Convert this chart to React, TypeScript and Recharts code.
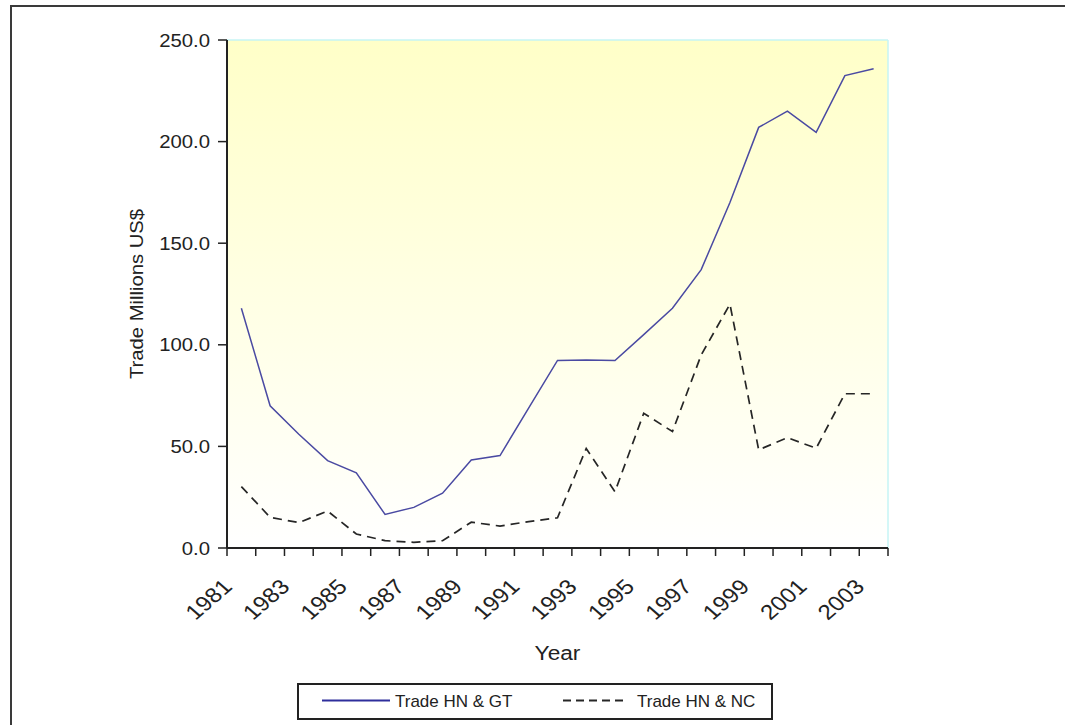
import React from 'react';
import { LineChart, Line, XAxis, YAxis, CartesianGrid, Legend, Label, ReferenceLine } from 'recharts';

const years = ['1981', '1982', '1983', '1984', '1985', '1986', '1987', '1988', '1989', '1990', '1991', '1992', '1993', '1994', '1995', '1996', '1997', '1998', '1999', '2000', '2001', '2002', '2003'];
const tradeGT = [118, 70, 56, 43, 37, 16.5, 20, 27, 43.3, 45.5, 69, 92.3, 92.5, 92.3, 105, 118, 137, 170, 207, 215, 204.5, 232.5, 235.8];
const tradeNC = [30.2, 15.1, 12.5, 18.2, 6.9, 3.6, 2.8, 3.6, 12.7, 10.8, 13, 14.9, 49, 27.7, 66.3, 57.3, 95, 120, 48.3, 54.3, 49.1, 75.9, 75.9];
const yTicks = [0, 50, 100, 150, 200, 250];
const seriesNames = ['Trade HN & GT', 'Trade HN & NC'];
const axisTitles = { x: 'Year', y: 'Trade Millions US$' };

// each year occupies one slot [i, i+1] on the x axis; its value is plotted at the slot centre
const data = years.map((year, i) => ({ slot: i + 0.5, year, gt: tradeGT[i], nc: tradeNC[i] }));
const boundaryTicks = Array.from({ length: years.length + 1 }, (_, i) => i);

const FONT = "'Liberation Sans', Arial, sans-serif";
const GT_COLOR = '#4a4aa2';
const NC_COLOR = '#262626';
const AXIS_COLOR = '#222';
const EDGE_COLOR = '#c6f4f4';

const XTick = (props: any) => {
  const { x, y, payload } = props;
  const i = payload.value as number;
  if (i % 2 !== 0 || i >= years.length) return <g />;
  return (
    <g transform={`translate(${x + 6.5},${y + 30})`}>
      <text transform="scale(1.15,1) rotate(-45)" textAnchor="end" fontSize={21} fill="#222" fontFamily={FONT}>
        {years[i]}
      </text>
    </g>
  );
};

const YTick = (props: any) => {
  const { x, y, payload } = props;
  return (
    <g transform={`translate(${x},${y})`}>
      <text transform="scale(1.13,1)" textAnchor="end" dy={6.5} fontSize={18} fill="#222" fontFamily={FONT}>
        {Number(payload.value).toFixed(1)}
      </text>
    </g>
  );
};

const YTitle = (props: any) => {
  const vb = props.viewBox;
  const cx = vb.x + 10;
  const cy = vb.y + vb.height / 2;
  return (
    <text
      x={cx}
      y={cy}
      transform={`rotate(-90, ${cx}, ${cy})`}
      textAnchor="middle"
      dominantBaseline="central"
      fontSize={18}
      fill="#222"
      fontFamily={FONT}
      textLength={170}
      lengthAdjust="spacingAndGlyphs"
    >
      {axisTitles.y}
    </text>
  );
};

const XTitle = (props: any) => {
  const vb = props.viewBox;
  const cx = vb.x + vb.width / 2;
  const cy = vb.y + 105;
  return (
    <text x={cx} y={cy} textAnchor="middle" dominantBaseline="central" fontSize={21} fill="#222" fontFamily={FONT} transform={`translate(${cx},0) scale(1.08,1) translate(${-cx},0)`}>
      {axisTitles.x}
    </text>
  );
};

const LegendBox = () => (
  <svg width={476} height={37} style={{ display: 'block' }}>
    <rect x={1} y={1} width={474} height={35} fill="#fff" stroke={AXIS_COLOR} strokeWidth={2} />
    <line x1={25} x2={93} y1={17.5} y2={17.5} stroke="#2e2e9c" strokeWidth={2} />
    <text x={98} y={23.5} fontSize={17} fill="#222" fontFamily={FONT}>{seriesNames[0]}</text>
    <line x1={266} x2={328} y1={17.5} y2={17.5} stroke={NC_COLOR} strokeWidth={2} strokeDasharray="8 5" />
    <text x={340} y={23.5} fontSize={17} fill="#222" fontFamily={FONT}>{seriesNames[1]}</text>
  </svg>
);

export default function App() {
  return (
    <div style={{ position: 'absolute', left: 0, top: 0, width: 1065, height: 725, overflow: 'hidden', background: '#fff' }}>
      <div style={{ position: 'absolute', left: 10, top: 5, width: 1200, height: 900, border: '2px solid #3a3a3a' }} />
      <div style={{ position: 'absolute', left: 0, top: 0 }}>
        <LineChart width={1065} height={725} data={data} margin={{ top: 40, right: 177, bottom: 67, left: 127 }}>
          <defs>
            <linearGradient id="plotBg" x1="0" y1="0" x2="0" y2="1">
              <stop offset="0%" stopColor="#ffffc8" />
              <stop offset="100%" stopColor="#ffffff" />
            </linearGradient>
          </defs>
          <CartesianGrid horizontal={false} vertical={false} fill="url(#plotBg)" fillOpacity={1} />
          <ReferenceLine y={250} stroke={EDGE_COLOR} strokeWidth={1.5} />
          <ReferenceLine x={years.length} stroke={EDGE_COLOR} strokeWidth={1.5} />
          <XAxis
            dataKey="slot"
            type="number"
            domain={[0, years.length]}
            ticks={boundaryTicks}
            interval={0}
            allowDataOverflow
            height={110}
            tickSize={8}
            tickMargin={2}
            tickLine={{ stroke: AXIS_COLOR, strokeWidth: 1.5 }}
            axisLine={{ stroke: AXIS_COLOR, strokeWidth: 2 }}
            tick={<XTick />}
          >
            <Label content={<XTitle />} />
          </XAxis>
          <YAxis
            domain={[0, 250]}
            ticks={yTicks}
            interval={0}
            width={100}
            tickSize={9}
            tickMargin={8}
            tickLine={{ stroke: AXIS_COLOR, strokeWidth: 1.5 }}
            axisLine={{ stroke: AXIS_COLOR, strokeWidth: 2 }}
            tick={<YTick />}
          >
            <Label content={<YTitle />} />
          </YAxis>
          <Line dataKey="gt" name={seriesNames[0]} stroke={GT_COLOR} strokeWidth={1.5} dot={false} isAnimationActive={false} />
          <Line dataKey="nc" name={seriesNames[1]} stroke={NC_COLOR} strokeWidth={1.7} strokeDasharray="9 6" dot={false} isAnimationActive={false} />
          <Legend
            layout="vertical"
            align="center"
            verticalAlign="middle"
            wrapperStyle={{ position: 'absolute', left: 297, top: 683, width: 476, height: 37 }}
            content={<LegendBox />}
          />
        </LineChart>
      </div>
    </div>
  );
}
